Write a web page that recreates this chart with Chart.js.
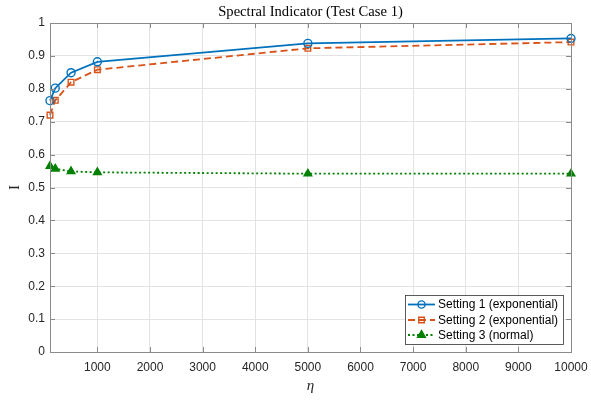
<!DOCTYPE html>
<html>
<head>
<meta charset="utf-8">
<script src="https://cdn.jsdelivr.net/npm/chart.js@4/dist/chart.umd.min.js"></script>
<style>
html,body{margin:0;padding:0;background:#fff;}
#wrap{width:591px;height:401px;position:relative;}
</style>
</head>
<body>
<div id="wrap"><canvas id="c" width="591" height="401"></canvas></div>
<script>
const etaValues = [100, 200, 500, 1000, 5000, 10000];
const setting1 = [0.764, 0.802, 0.849, 0.882, 0.938, 0.953];
const setting2 = [0.720, 0.765, 0.820, 0.858, 0.923, 0.942];
const setting3 = [0.565, 0.557, 0.549, 0.546, 0.542, 0.542];
const seriesNames = ['Setting 1 (exponential)', 'Setting 2 (exponential)', 'Setting 3 (normal)'];
const xTickValues = [1000, 2000, 3000, 4000, 5000, 6000, 7000, 8000, 9000, 10000];
const titleText = 'Spectral Indicator (Test Case 1)';
const xTitle = 'η';
const yTitle = 'I';

const BLUE = '#0072BD', ORANGE = '#D95319', GREEN = '#008000';
const AXIS = '#8a8a8a', GRID = '#e3e3e3', TEXT = '#262626';

function pts(vals){ return etaValues.map((x,i)=>({x:x,y:vals[i]})); }

const styles = [
  {color:BLUE, dash:[], marker:'circle', fill:'rgba(0,0,0,0)', radius:4},
  {color:ORANGE, dash:[7,4], marker:'rect', fill:'rgba(0,0,0,0)', radius:4},
  {color:GREEN, dash:[2,2.5], marker:'triangle', fill:GREEN, radius:4.4}
];
const seriesData = [setting1, setting2, setting3];

const datasets = seriesData.map((vals,i)=>({
  label: seriesNames[i],
  data: pts(vals),
  borderColor: styles[i].color,
  backgroundColor: styles[i].fill,
  borderWidth: 1.8,
  borderDash: styles[i].dash,
  pointStyle: styles[i].marker,
  pointRadius: styles[i].radius,
  pointBorderWidth: 1.4,
  pointBorderColor: styles[i].color,
  pointBackgroundColor: styles[i].fill,
  tension: 0,
  fill: false,
  clip: false
}));

const decor = {
  id:'decor',
  afterDraw(chart){
    const ctx = chart.ctx, a = chart.chartArea;
    const xs = chart.scales.x, ys = chart.scales.y;
    ctx.save();
    ctx.strokeStyle = AXIS; ctx.lineWidth = 1;
    ctx.strokeRect(Math.round(a.left)+0.5, Math.round(a.top)+0.5, Math.round(a.right-a.left), Math.round(a.bottom-a.top));
    const tl = 5;
    ctx.beginPath();
    xs.ticks.forEach(t=>{
      const px = Math.round(xs.getPixelForValue(t.value))+0.5;
      ctx.moveTo(px, a.bottom); ctx.lineTo(px, a.bottom-tl);
      ctx.moveTo(px, a.top); ctx.lineTo(px, a.top+tl);
    });
    ys.ticks.forEach(t=>{
      const py = Math.round(ys.getPixelForValue(t.value))+0.5;
      ctx.moveTo(a.left, py); ctx.lineTo(a.left+tl, py);
      ctx.moveTo(a.right, py); ctx.lineTo(a.right-tl, py);
    });
    ctx.stroke();
    ctx.fillStyle = '#000';
    ctx.font = '14.6px "Liberation Serif", serif';
    ctx.textAlign = 'center'; ctx.textBaseline = 'alphabetic';
    ctx.fillText(titleText, (a.left+a.right)/2, 16);
    ctx.fillStyle = TEXT;
    ctx.font = 'italic 15px "Liberation Serif", serif';
    ctx.textBaseline = 'middle';
    ctx.fillText(xTitle, (a.left+a.right)/2, 386);
    ctx.save();
    ctx.translate(15, (a.top+a.bottom)/2);
    ctx.rotate(-Math.PI/2);
    ctx.font = '15px "Liberation Serif", serif';
    ctx.fillText(yTitle, 0, 0);
    ctx.restore();
    const lx = 405, ly = 295, lw = 158, lh = 49;
    ctx.fillStyle = '#fff';
    ctx.fillRect(lx, ly, lw, lh);
    ctx.strokeStyle = '#333'; ctx.lineWidth = 0.8;
    ctx.strokeRect(lx+0.5, ly+0.5, lw, lh);
    const rows = [304.5, 320, 335];
    ctx.font = '12px "Liberation Sans", Arial, sans-serif';
    ctx.textAlign = 'left'; ctx.textBaseline = 'middle';
    chart.data.datasets.forEach((ds,i)=>{
      const y = rows[i];
      ctx.strokeStyle = ds.borderColor; ctx.lineWidth = 1.8;
      ctx.setLineDash(ds.borderDash);
      ctx.beginPath(); ctx.moveTo(408, y); ctx.lineTo(435, y); ctx.stroke();
      ctx.setLineDash([]);
      ctx.lineWidth = 1.4;
      ctx.fillStyle = ds.pointBackgroundColor;
      const cx = 421.5, r = ds.pointRadius;
      ctx.beginPath();
      if (ds.pointStyle==='circle'){ ctx.arc(cx,y,r*0.9,0,Math.PI*2); }
      else if (ds.pointStyle==='rect'){ const s=r*0.7; ctx.rect(cx-s,y-s,2*s,2*s); }
      else { const w=r*0.87; ctx.moveTo(cx,y-r); ctx.lineTo(cx+w,y+r*0.5); ctx.lineTo(cx-w,y+r*0.5); ctx.closePath(); }
      ctx.fill(); ctx.stroke();
      ctx.fillStyle = '#000';
      ctx.fillText(ds.label, 438, y+0.5);
    });
    ctx.restore();
  }
};

new Chart(document.getElementById('c'), {
  type:'line',
  data:{datasets:datasets},
  options:{
    responsive:false,
    animation:false,
    devicePixelRatio:1,
    layout:{padding:{left:0,right:20,top:23,bottom:0}},
    plugins:{legend:{display:false}, title:{display:false}, tooltip:{enabled:false}},
    scales:{
      x:{
        type:'linear', min:100, max:10000,
        afterBuildTicks(s){ s.ticks = xTickValues.map(v=>({value:v})); },
        afterFit(s){ s.height = 49; s.paddingLeft = 0; s.paddingRight = 0; },
        grid:{color:GRID, drawTicks:false, lineWidth:1},
        border:{display:true, color:AXIS},
        ticks:{color:TEXT, padding:8, maxRotation:0, autoSkip:false, font:{family:'"Liberation Sans", Arial, sans-serif', size:12}, callback:v=>String(v)}
      },
      y:{
        min:0, max:1,
        afterBuildTicks(s){ const t=[]; for(let i=0;i<=10;i++) t.push({value:i/10}); s.ticks=t; },
        afterFit(s){ s.width = 50; s.paddingTop = 0; s.paddingBottom = 0; },
        grid:{color:GRID, drawTicks:false, lineWidth:1},
        border:{display:true, color:AXIS},
        ticks:{color:TEXT, padding:5, font:{family:'"Liberation Sans", Arial, sans-serif', size:12}, callback:v=>String(Math.round(v*10)/10)}
      }
    }
  },
  plugins:[decor]
});
</script>
</body>
</html>
